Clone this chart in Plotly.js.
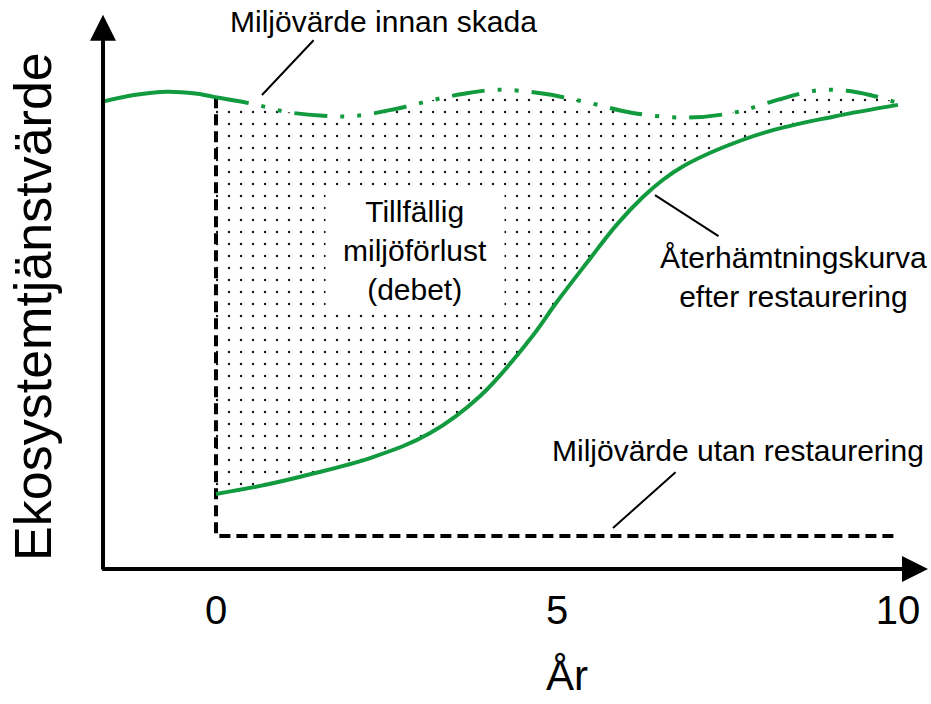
<!DOCTYPE html>
<html>
<head>
<meta charset="utf-8">
<script src="https://cdn.plot.ly/plotly-3.0.1.min.js"></script>
<style>html,body{margin:0;padding:0;background:#fff;}#chart{width:931px;height:704px;}</style>
</head>
<body>
<div id="chart"></div>
<script>
// ---- data (years on x, ecosystem service value in arbitrary units on y) ----
var preX = [-1.66, -1.2, -0.72, -0.3, 0];
var preY = [99.0, 100.4, 101.1, 100.7, 99.9];

var baseX = [0, 0.54, 1.04, 1.57, 2.07, 2.65, 3.14, 3.61, 4.12, 4.79, 5.48, 6.11, 6.91, 7.64, 8.08, 8.78, 9.25, 9.59, 10.0];
var baseY = [99.9, 98.5, 96.8, 96.0, 96.0, 97.5, 99.2, 100.6, 101.5, 100.7, 98.7, 96.6, 95.6, 96.8, 98.7, 101.3, 101.3, 100.4, 98.7];

var recX = [0, 0.65, 1.28, 2.30, 3.14, 3.87, 4.60, 5.00, 5.44, 5.88, 6.26, 6.55, 6.85, 7.35, 8.08, 9.05, 10.0];
var recY = [15.9, 17.6, 19.7, 23.7, 28.8, 36.6, 48.6, 56.6, 64.9, 73.0, 78.8, 82.4, 85.3, 88.8, 92.6, 95.8, 98.3];

var noRestX = [0, 0, 10];
var noRestY = [99.9, 7.0, 7.0];

var tickVals = [0, 5, 10];
var xTitle = 'År';
var yTitle = 'Ekosystemtjänstvärde';
var labelBefore = 'Miljövärde innan skada';
var labelLoss = 'Tillfällig<br>miljöförlust<br>(debet)';
var labelRecovery = 'Återhämtningskurva<br>efter restaurering';
var labelNoRest = 'Miljövärde utan restaurering';

// ---- styling ----
var GREEN = '#129a3f';
var FONT = 'Liberation Sans, Arial, sans-serif';

var traces = [
  {x: noRestX, y: noRestY, mode: 'lines', line: {color: '#000', width: 4, dash: '11px,6px'}, hoverinfo: 'skip'},
  {x: preX, y: preY, mode: 'lines', line: {color: GREEN, width: 4, shape: 'spline'}, hoverinfo: 'skip'},
  {x: recX, y: recY, mode: 'lines', line: {color: GREEN, width: 4, shape: 'spline', smoothing: 1.1}, hoverinfo: 'skip'},
  {x: baseX, y: baseY, mode: 'lines', line: {color: GREEN, width: 4, shape: 'spline', dash: '33px,13px,4px,13px,4px,13px'},
   fill: 'tonexty', fillcolor: 'rgba(0,0,0,0)',
   fillpattern: {shape: '.', size: 12, solidity: 0.03, fgcolor: '#111', bgcolor: 'rgba(0,0,0,0)', fillmode: 'replace'},
   hoverinfo: 'skip'}
];

function arrow(x, y, ax, ay, w, head, size) {
  return {x: x, y: y, ax: ax, ay: ay, xref: 'x', yref: 'y', axref: 'x', ayref: 'y',
          text: '', showarrow: true, arrowhead: head, arrowsize: size, arrowwidth: w,
          arrowcolor: '#000', standoff: 0, startstandoff: 0};
}
function label(txt, x, y, size) {
  return {x: x, y: y, xref: 'x', yref: 'y', text: txt, showarrow: false,
          font: {family: FONT, size: size, color: '#000'}, xanchor: 'center', yanchor: 'middle'};
}

var lossBox = label(labelLoss, 2.918, 67.6, 30);
lossBox.bgcolor = '#fff';
lossBox.width = 176;
lossBox.height = 120;

var annotations = [
  arrow(10.44, 0, -1.69, 0, 4, 2, 1.3),
  arrow(-1.657, 117.4, -1.657, -0.4, 4, 2, 1.3),
  arrow(0.674, 100.4, 1.452, 112.3, 2, 0, 1),
  arrow(6.437, 79.2, 7.39, 70.3, 2, 0, 1),
  arrow(5.821, 8.69, 6.76, 20.76, 2, 0, 1),
  label(labelBefore, 2.449, 115.9, 30),
  lossBox,
  label(labelRecovery, 8.475, 61.9, 30),
  label(labelNoRest, 7.654, 25.2, 30),
  {x: 5.15, y: -0.19, xref: 'x', yref: 'paper', text: xTitle, showarrow: false,
   font: {family: FONT, size: 42, color: '#000'}, xanchor: 'center', yanchor: 'middle'},
  {x: -0.085, y: 55.7, xref: 'paper', yref: 'y', text: yTitle, showarrow: false, textangle: -90,
   font: {family: FONT, size: 52, color: '#000'}, xanchor: 'center', yanchor: 'middle'}
];

var layout = {
  width: 931, height: 704,
  margin: {l: 103, r: 3, t: 10, b: 135, pad: 0},
  paper_bgcolor: '#fff', plot_bgcolor: '#fff',
  showlegend: false,
  font: {family: FONT, color: '#000'},
  xaxis: {range: [-1.657, 10.44], showgrid: false, zeroline: false, showline: false,
          tickvals: tickVals, ticks: '', ticklabelstandoff: 14,
          tickfont: {family: FONT, size: 40, color: '#000'}, fixedrange: true},
  yaxis: {range: [0, 118.4], showgrid: false, zeroline: false, showline: false,
          showticklabels: false, ticks: '', fixedrange: true},
  annotations: annotations
};

Plotly.newPlot('chart', traces, layout, {staticPlot: true, displayModeBar: false});
</script>
</body>
</html>
